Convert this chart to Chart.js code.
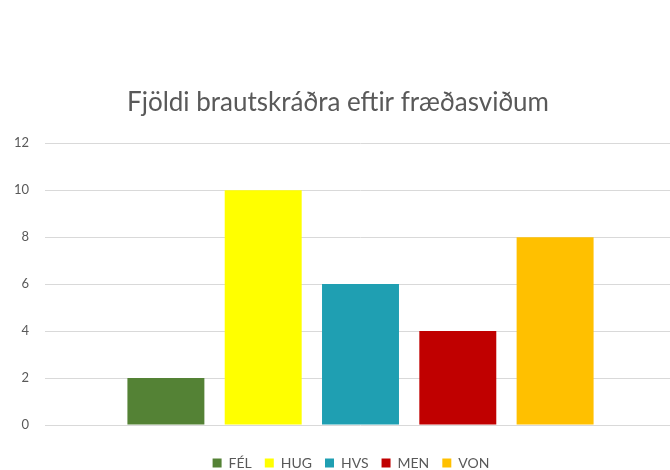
<!DOCTYPE html>
<html>
<head>
<meta charset="utf-8">
<script src="https://cdn.jsdelivr.net/npm/chart.js@4"></script>
<style>
  html, body { margin: 0; padding: 0; background: #fff; overflow: hidden; }
  #wrap { position: absolute; left: 0; top: 0; width: 676px; height: 480px; }
</style>
</head>
<body>
<div id="wrap"><canvas id="chart" width="676" height="480"></canvas></div>
<script>
// data
const categories = [''];
const seriesNames = ['FÉL', 'HUG', 'HVS', 'MEN', 'VON'];
const seriesValues = [[2], [10], [6], [4], [8]];
const seriesColors = ['#548235', '#FFFF00', '#1F9FB2', '#C00000', '#FFC000'];
const yTicks = [0, 2, 4, 6, 8, 10, 12];

const font = "Lato, 'Open Sans', sans-serif";

let datasets = seriesNames.map((name, i) => ({
    label: name,
    data: seriesValues[i],
    backgroundColor: seriesColors[i],
    borderWidth: 0,
    categoryPercentage: 0.771,
    barPercentage: 0.791
}));

// legend sits a little right of the middle in the original
const legendShift = {
    id: 'legendShift',
    afterLayout(chart) {
        chart.legend.left += 13;
        chart.legend.right += 13;
    }
};

let ctx = document.getElementById('chart').getContext('2d');
let myChart = new Chart(ctx, {
    type: 'bar',
    data: {
        labels: categories,
        datasets: datasets
    },
    plugins: [legendShift],
    options: {
        responsive: false,
        animation: false,
        layout: {
            padding: { top: 80, left: 0, right: 0, bottom: 0 }
        },
        plugins: {
            title: {
                display: true,
                text: 'Fjöldi brautskráðra eftir fræðasviðum',
                color: '#595959',
                font: { family: font, size: 26, weight: 'normal' },
                padding: { top: 7, bottom: 25 }
            },
            legend: {
                position: 'bottom',
                labels: {
                    color: '#595959',
                    font: { family: font, size: 14 },
                    boxWidth: 9,
                    boxHeight: 9,
                    padding: 13
                }
            },
            tooltip: { enabled: false }
        },
        scales: {
            x: {
                ticks: { display: false },
                grid: { display: false },
                border: { display: false },
                afterFit: (scale) => {
                    scale.height = 18;
                }
            },
            y: {
                min: 0,
                max: 12,
                afterBuildTicks: (scale) => {
                    scale.ticks = yTicks.map(v => ({ value: v }));
                },
                afterFit: (scale) => {
                    scale.width = 45;
                },
                ticks: {
                    color: '#595959',
                    font: { family: font, size: 13 },
                    padding: 16
                },
                grid: {
                    color: '#D9D9D9',
                    drawTicks: false
                },
                border: { display: false }
            }
        }
    }
});
</script>
</body>
</html>
